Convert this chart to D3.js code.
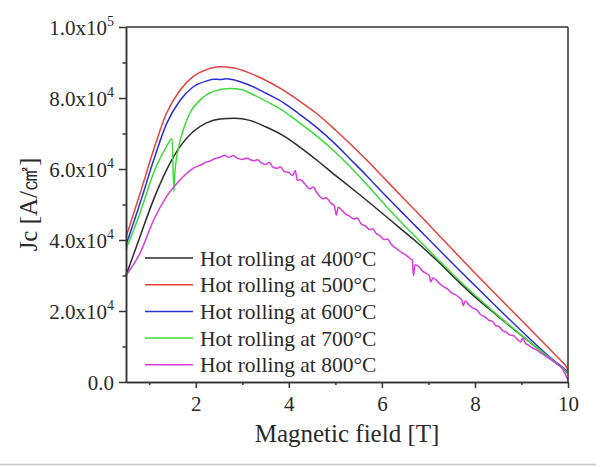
<!DOCTYPE html>
<html>
<head>
<meta charset="utf-8">
<script src="https://cdn.jsdelivr.net/npm/d3@7"></script>
<style>
  html, body { margin: 0; padding: 0; background: #fff; }
  svg { display: block; }
</style>
</head>
<body>
<svg id="chart" width="614" height="467"></svg>
<script>
// ---------------- data ----------------
const seriesNames = ["Hot rolling at 400°C", "Hot rolling at 500°C", "Hot rolling at 600°C", "Hot rolling at 700°C", "Hot rolling at 800°C"];
const seriesColors = ["#2b2b2b", "#e8413c", "#2b2fd8", "#3cdc3c", "#d63ddc"];

const xTicks = [2, 4, 6, 8, 10];
const xMinorTicks = [1, 3, 5, 7, 9];
const yTicks = [0, 20000, 40000, 60000, 80000, 100000];
const yMinorTicks = [10000, 30000, 50000, 70000, 90000];
const yTickMantissa = ["0.0", "2.0", "4.0", "6.0", "8.0", "1.0"];
const yTickExponent = ["", "4", "4", "4", "4", "5"];

// [field (T), Jc (A/cm2)]
const jc400 = [[0.5,30000],[0.8,40900],[1.09,51300],[1.37,59700],[1.66,66300],[1.94,70500],[2.23,73000],[2.52,74100],[2.84,74300],[3.16,73700],[3.5,71900],[3.88,69400],[4.2,66500],[4.59,62600],[5.0,58200],[5.31,55000],[5.65,51400],[6.02,47400],[6.4,43200],[6.74,39500],[7.2,34000],[7.67,28000],[7.88,25400],[8.5,18500],[9.2,11000],[9.7,5700],[9.9,3700],[10,2300]];
const jc500 = [[0.5,40800],[0.8,53000],[1.09,65300],[1.37,75700],[1.66,82200],[1.94,86000],[2.23,88000],[2.52,88800],[2.8,88500],[3.16,87000],[3.5,85000],[3.88,82200],[4.2,79400],[4.59,75700],[5.0,71000],[5.31,67200],[5.65,62800],[6.02,57800],[6.4,52600],[6.74,48000],[7.2,41700],[7.67,35200],[7.88,32300],[8.5,24000],[9.2,14700],[9.7,8000],[9.85,6000],[9.95,4600],[10,3400]];
const jc600 = [[0.5,38600],[0.8,50300],[1.09,62300],[1.37,72700],[1.66,79300],[1.94,83100],[2.23,84800],[2.4,85300],[2.52,85200],[2.65,85400],[2.9,84800],[3.16,83600],[3.5,81400],[3.88,78700],[4.2,75700],[4.59,71800],[5.0,67000],[5.31,62900],[5.65,58400],[6.02,53300],[6.4,48200],[6.74,43700],[7.2,37600],[7.67,31400],[7.88,28700],[8.5,20700],[9.2,11900],[9.7,6000],[9.85,4500],[10,2900]];
const jc700 = [[0.5,37500],[0.8,47500],[1.09,58800],[1.37,66300],[1.49,68600],[1.53,53600],[1.55,58800],[1.62,65400],[1.73,71000],[1.87,75700],[2.09,79400],[2.37,81800],[2.73,82700],[3.0,82300],[3.16,81400],[3.5,79200],[3.88,76400],[4.2,73300],[4.59,69400],[5.0,64700],[5.31,60700],[5.65,56000],[6.02,50600],[6.4,45200],[6.74,40700],[7.2,34600],[7.67,28500],[7.88,25900],[8.5,18700],[9.2,11000],[9.7,5800],[9.9,3700],[10,2400]];
const jc800 = [[0.5,30000],[0.8,36300],[1.09,45500],[1.37,52200],[1.66,56900],[1.94,60200],[2.1,61100],[2.23,62000],[2.32,62300],[2.4,62900],[2.52,63300],[2.62,63900],[2.7,63300],[2.8,63700],[2.9,63000],[3.0,62700],[3.1,63100],[3.16,62700],[3.25,62300],[3.33,62600],[3.4,61800],[3.5,61300],[3.58,61800],[3.66,60500],[3.75,60200],[3.82,60600],[3.9,59300],[4.0,59000],[4.08,58200],[4.14,59600],[4.18,56800],[4.25,57000],[4.33,56000],[4.45,54400],[4.52,54900],[4.6,53400],[4.73,51600],[4.8,51900],[4.9,50400],[4.98,49600],[5.02,47000],[5.06,49200],[5.15,48200],[5.22,47300],[5.31,46700],[5.4,45900],[5.47,46200],[5.55,44600],[5.65,43900],[5.74,42900],[5.8,43200],[5.88,41800],[5.95,41300],[6.05,40100],[6.12,40300],[6.2,38800],[6.3,37700],[6.38,36900],[6.45,36300],[6.55,35400],[6.62,34600],[6.65,34400],[6.68,30000],[6.71,33000],[6.8,32400],[6.87,31300],[6.95,30600],[7.02,30000],[7.05,28200],[7.1,29300],[7.17,28700],[7.25,27600],[7.33,26800],[7.4,26300],[7.5,25100],[7.58,24600],[7.66,23800],[7.72,23100],[7.75,21500],[7.79,22800],[7.88,21600],[7.95,20900],[8.05,20200],[8.12,19000],[8.2,18500],[8.3,17400],[8.38,17000],[8.45,15900],[8.52,15600],[8.6,14400],[8.68,14000],[8.75,13200],[8.82,13100],[8.9,12200],[8.98,11300],[9.03,12300],[9.08,11000],[9.15,10400],[9.25,9500],[9.33,9000],[9.42,8100],[9.5,7500],[9.6,6600],[9.68,6000],[9.76,5100],[9.85,4200],[9.93,2500],[10,500]];

const seriesData = [jc400, jc500, jc600, jc700, jc800];

// ---------------- chart ----------------
const FONT = "'Liberation Serif', 'Times New Roman', serif";
const TEXT_COLOR = "#2a2a2a";
const svg = d3.select("#chart");
const mLeft = 126, mRight = 568, mTop = 27, mBottom = 382;

const x = d3.scaleLinear().domain([0.5, 10]).range([mLeft, mRight]);
const y = d3.scaleLinear().domain([0, 100000]).range([mBottom, mTop]);

// faint separator line at the very bottom
svg.append("line").attr("x1", 0).attr("x2", 596).attr("y1", 464.5).attr("y2", 464.5)
  .attr("stroke", "#c8c8c8").attr("stroke-width", 1.5);

// curves
const line = d3.line().x(d => x(d[0])).y(d => y(d[1])).curve(d3.curveMonotoneX);
const order = [0, 1, 2, 3, 4];
svg.append("g").selectAll("path").data(order).join("path")
  .attr("d", i => line(seriesData[i]))
  .attr("fill", "none")
  .attr("stroke", i => seriesColors[i])
  .attr("stroke-width", 1.5)
  .attr("stroke-linejoin", "round");

// axes
const axisColor = "#333";
function styleAxis(g) {
  g.select(".domain").attr("stroke", axisColor).attr("stroke-width", 1.5);
  g.selectAll(".tick line").attr("stroke", axisColor).attr("stroke-width", 1.5);
}

const gx = svg.append("g").attr("transform", `translate(0,${mBottom})`)
  .call(d3.axisBottom(x).tickValues(xTicks).tickSize(6).tickSizeOuter(0).tickPadding(8).tickFormat(d3.format("d")));
styleAxis(gx);
gx.selectAll(".tick text")
  .style("font-family", FONT).style("font-size", "21px").style("fill", TEXT_COLOR);

const gxm = svg.append("g").attr("transform", `translate(0,${mBottom})`)
  .call(d3.axisBottom(x).tickValues(xMinorTicks).tickSize(3).tickSizeOuter(0).tickFormat(""));
styleAxis(gxm);

const gy = svg.append("g").attr("transform", `translate(${mLeft},0)`)
  .call(d3.axisLeft(y).tickValues(yTicks).tickSize(7).tickSizeOuter(0).tickFormat(""));
styleAxis(gy);
const gym = svg.append("g").attr("transform", `translate(${mLeft},0)`)
  .call(d3.axisLeft(y).tickValues(yMinorTicks).tickSize(3.5).tickSizeOuter(0).tickFormat(""));
styleAxis(gym);

// y tick labels with superscripts
const yl = svg.append("g").selectAll("text").data(yTicks).join("text")
  .attr("x", mLeft - 12)
  .attr("y", d => y(d) + 7.5)
  .attr("text-anchor", "end")
  .style("font-family", FONT).style("font-size", "21px").style("fill", TEXT_COLOR);
yl.each(function(d, i) {
  const t = d3.select(this);
  if (yTickExponent[i] === "") {
    t.text(yTickMantissa[i]);
  } else {
    t.append("tspan").text(yTickMantissa[i] + "x10");
    t.append("tspan").style("font-size", "14px").attr("dy", -9).text(yTickExponent[i]);
  }
});

// frame top and right
svg.append("line").attr("x1", mLeft).attr("x2", mRight).attr("y1", mTop).attr("y2", mTop)
  .attr("stroke", axisColor).attr("stroke-width", 1.5);
svg.append("line").attr("x1", mRight).attr("x2", mRight).attr("y1", mTop).attr("y2", mBottom)
  .attr("stroke", axisColor).attr("stroke-width", 1.5);

// axis titles
svg.append("text").attr("x", (mLeft + mRight) / 2).attr("y", 442)
  .attr("text-anchor", "middle")
  .style("font-family", FONT).style("font-size", "25px").style("fill", TEXT_COLOR)
  .text("Magnetic field [T]");
svg.append("text")
  .attr("transform", `translate(37,${(mTop + mBottom) / 2}) rotate(-90)`)
  .attr("text-anchor", "middle")
  .style("font-family", FONT).style("font-size", "25px").style("fill", TEXT_COLOR)
  .text("Jc [A/㎠]");

// legend
const legendY0 = 258, legendStep = 26.7;
const lg = svg.append("g").selectAll("g").data(seriesNames).join("g")
  .attr("transform", (d, i) => `translate(0,${legendY0 + i * legendStep})`);
lg.append("line").attr("x1", 145).attr("x2", 193).attr("y1", 0).attr("y2", 0)
  .attr("stroke", (d, i) => seriesColors[i]).attr("stroke-width", 1.5);
lg.append("text").attr("x", 200).attr("y", 7.5)
  .style("font-family", FONT).style("font-size", "21.5px").style("fill", TEXT_COLOR)
  .text(d => d);
</script>
</body>
</html>
